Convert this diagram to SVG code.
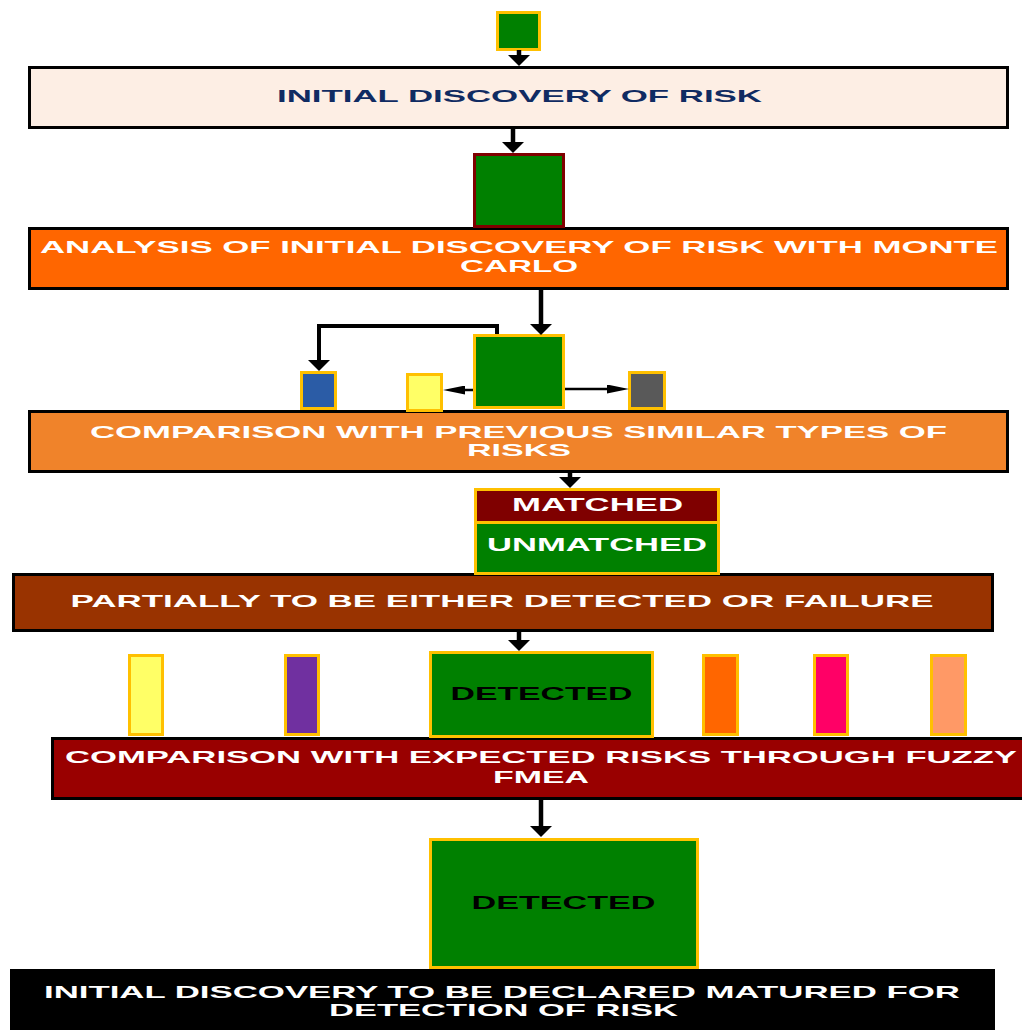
<svg xmlns="http://www.w3.org/2000/svg" width="1022" height="1030" viewBox="0 0 1022 1030">
<style>
.t{font-family:"Liberation Sans",Arial,sans-serif;font-weight:bold;font-size:17px;text-anchor:middle;fill:#fff}
.t18{font-size:18px}
.dk{fill:#000}
.main{stroke:#000;stroke-width:3}
.gold{stroke:#FFC000;stroke-width:3}
.cv{fill:none;stroke:#000;stroke-width:4.5}
.ch{fill:none;stroke:#000;stroke-width:2.5}
</style>
<defs>
<marker id="av" viewBox="0 0 11 22" markerWidth="11" markerHeight="22" refX="0" refY="11" orient="auto" markerUnits="userSpaceOnUse">
<path d="M0,0 L11,11 L0,22 z" fill="#000"/>
</marker>
<marker id="ah" viewBox="0 0 22 9" markerWidth="22" markerHeight="9" refX="0" refY="4.5" orient="auto" markerUnits="userSpaceOnUse">
<path d="M0,0 L22,4.5 L0,9 z" fill="#000"/>
</marker>
</defs>
<rect width="1022" height="1030" fill="#fff"/>

<g id="start">
<rect x="497.5" y="12.5" width="42" height="37" fill="#008000" class="gold"/>
</g>

<g id="box1">
<rect x="29.5" y="67.5" width="978" height="60" fill="#FDEEE4" class="main"/>
<text class="t" style="fill:#102B62" x="519.5" y="102" textLength="485" lengthAdjust="spacingAndGlyphs">INITIAL DISCOVERY OF RISK</text>
</g>

<g id="box2">
<rect x="29.5" y="228.5" width="978" height="60" fill="#FF6600" class="main"/>
<text class="t" x="519" y="253" textLength="958" lengthAdjust="spacingAndGlyphs">ANALYSIS OF INITIAL DISCOVERY OF RISK WITH MONTE</text>
<text class="t" x="519" y="272" textLength="118" lengthAdjust="spacingAndGlyphs">CARLO</text>
</g>

<g id="green2">
<rect x="474.5" y="154.5" width="89" height="72" fill="#008000" stroke="#800000" stroke-width="3"/>
</g>

<g id="box3">
<rect x="29.5" y="411.5" width="978" height="60" fill="#F0832A" class="main"/>
<text class="t" x="518.5" y="438" textLength="857" lengthAdjust="spacingAndGlyphs">COMPARISON WITH PREVIOUS SIMILAR TYPES OF</text>
<text class="t" x="519" y="456" textLength="104" lengthAdjust="spacingAndGlyphs">RISKS</text>
</g>

<g id="green3">
<rect x="474.5" y="335.5" width="89" height="72" fill="#008000" class="gold"/>
</g>
<g id="blue">
<rect x="301.5" y="372.5" width="34" height="36" fill="#2B5CA6" class="gold"/>
</g>
<g id="yellow">
<rect x="407.5" y="374.5" width="34" height="36" fill="#FFFF66" class="gold"/>
</g>
<g id="gray">
<rect x="629.5" y="372.5" width="35" height="36" fill="#595959" class="gold"/>
</g>

<g id="box4">
<rect x="13.5" y="574.5" width="979" height="56" fill="#993300" class="main"/>
<text class="t" x="502" y="607" textLength="863" lengthAdjust="spacingAndGlyphs">PARTIALLY TO BE EITHER DETECTED OR FAILURE</text>
</g>

<g id="matched">
<rect x="475.5" y="489.5" width="243" height="33" fill="#7F0000" class="gold"/>
<text class="t t18" x="597.5" y="510.5" textLength="171" lengthAdjust="spacingAndGlyphs">MATCHED</text>
</g>
<g id="unmatched">
<rect x="475.5" y="522.5" width="243" height="51" fill="#008000" class="gold"/>
<text class="t t18" x="597" y="550.5" textLength="220" lengthAdjust="spacingAndGlyphs">UNMATCHED</text>
</g>

<g id="box5">
<rect x="52.5" y="738.5" width="1000" height="60" fill="#990000" class="main"/>
<text class="t" x="541" y="763" textLength="952" lengthAdjust="spacingAndGlyphs">COMPARISON WITH EXPECTED RISKS THROUGH FUZZY</text>
<text class="t" x="541" y="783" textLength="96" lengthAdjust="spacingAndGlyphs">FMEA</text>
</g>

<g id="bar-yellow"><rect x="129.5" y="655.5" width="33" height="79" fill="#FFFF66" class="gold"/></g>
<g id="bar-purple"><rect x="285.5" y="655.5" width="33" height="79" fill="#7030A0" class="gold"/></g>
<g id="bar-orange"><rect x="703.5" y="655.5" width="34" height="79" fill="#FF6600" class="gold"/></g>
<g id="bar-pink"><rect x="814.5" y="655.5" width="33" height="79" fill="#FF0066" class="gold"/></g>
<g id="bar-salmon"><rect x="931.5" y="655.5" width="34" height="79" fill="#FF9966" class="gold"/></g>

<g id="detected1">
<rect x="430.5" y="652.5" width="222" height="84" fill="#008000" class="gold"/>
<text class="t t18 dk" x="541.5" y="699.5" textLength="182" lengthAdjust="spacingAndGlyphs">DETECTED</text>
</g>

<g id="detected2">
<rect x="430.5" y="839.5" width="267" height="128" fill="#008000" class="gold"/>
<text class="t t18 dk" x="563.5" y="908.5" textLength="184" lengthAdjust="spacingAndGlyphs">DETECTED</text>
</g>

<g id="box6">
<rect x="10" y="969" width="985" height="70" fill="#000"/>
<text class="t" x="502" y="998" textLength="916" lengthAdjust="spacingAndGlyphs">INITIAL DISCOVERY TO BE DECLARED MATURED FOR</text>
<text class="t" x="503.5" y="1016" textLength="349" lengthAdjust="spacingAndGlyphs">DETECTION OF RISK</text>
</g>

<g id="connectors">
<line class="cv" x1="519" y1="50" x2="519" y2="55" marker-end="url(#av)"/>
<line class="cv" x1="513" y1="129" x2="513" y2="142" marker-end="url(#av)"/>
<line class="cv" x1="541" y1="290" x2="541" y2="324" marker-end="url(#av)"/>
<path class="cv" style="stroke-width:4" d="M497,334 V326 H319 V360" marker-end="url(#av)"/>
<line class="ch" x1="473" y1="390" x2="465" y2="390" marker-end="url(#ah)"/>
<line class="ch" x1="565" y1="389" x2="607" y2="389" marker-end="url(#ah)"/>
<line class="cv" x1="570" y1="473" x2="570" y2="477" marker-end="url(#av)"/>
<line class="cv" x1="519" y1="632" x2="519" y2="640" marker-end="url(#av)"/>
<line class="cv" x1="541" y1="800" x2="541" y2="826" marker-end="url(#av)"/>
</g>
</svg>
